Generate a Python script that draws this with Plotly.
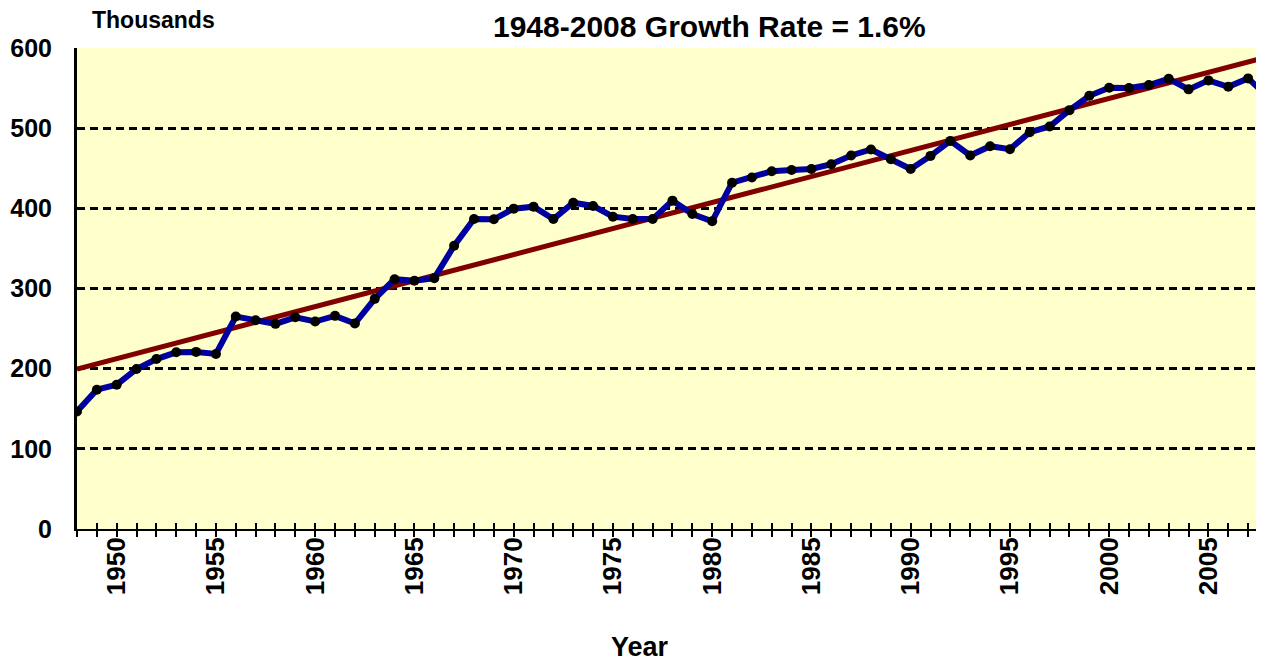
import plotly.graph_objects as go

# Annual values (thousands)
years = list(range(1948, 2009))
values = [
    146.6, 173.8, 180.0, 199.6, 212.0, 220.4, 220.9, 218.4, 265.0, 260.4,
    255.9, 264.1, 258.8, 265.9, 256.3, 287.1, 311.6, 309.6, 312.9, 353.4,
    386.6, 386.3, 399.6, 402.1, 386.6, 407.0, 403.0, 389.6, 386.6, 386.6,
    409.6, 392.9, 383.8, 432.0, 438.4, 446.3, 447.9, 449.1, 455.0, 465.9,
    473.4, 461.3, 449.1, 465.4, 484.1, 465.9, 477.5, 473.8, 495.0, 502.1,
    522.5, 540.4, 550.4, 550.0, 553.8, 561.6, 548.4, 559.6, 551.6, 562.1,
    539.0,
]

# Linear trend end points
trend_years = [1948, 2008]
trend_values = [199.5, 589.0]

y_ticks = [0, 100, 200, 300, 400, 500, 600]
label_years = list(range(1950, 2009, 5))

title_text = "1948-2008 Growth Rate = 1.6%"
font_family = "Arial, Liberation Sans, sans-serif"

fig = go.Figure()

fig.add_trace(go.Scatter(
    x=trend_years, y=trend_values, mode="lines",
    line=dict(color="#800000", width=5),
    hoverinfo="skip", showlegend=False,
))

fig.add_trace(go.Scatter(
    x=years, y=values, mode="lines+markers",
    line=dict(color="#0000A0", width=6),
    marker=dict(color="black", size=10),
    showlegend=False,
))

# invisible trace so the overlay axis (inside ticks) gets drawn
fig.add_trace(go.Scatter(
    x=[years[0]], y=[0], xaxis="x2", mode="markers",
    marker=dict(opacity=0), hoverinfo="skip", showlegend=False,
))

tick_text = [str(y) if y in label_years else "" for y in years]

# the page body keeps an 8px margin, so the figure is sized to fit inside it
fig.update_layout(
    width=1256, height=659,
    margin=dict(l=69, r=0, t=40, b=138),
    paper_bgcolor="white",
    plot_bgcolor="#FFFFCC",
    font=dict(family=font_family, color="black"),
    xaxis=dict(
        range=[1948, 2007.8], automargin=False,
        tickvals=years, ticktext=tick_text,
        ticks="outside", ticklen=6, tickwidth=2, tickcolor="black",
        tickangle=-90, ticklabelstandoff=-10,
        tickfont=dict(size=26, family=font_family, weight="bold"),
        showgrid=False, zeroline=False,
        showline=True, linecolor="black", linewidth=2,
    ),
    xaxis2=dict(
        range=[1948, 2007.8], overlaying="x", automargin=False,
        tickvals=years, ticks="inside", ticklen=6, tickwidth=2,
        tickcolor="black", showticklabels=False,
        showgrid=False, zeroline=False, showline=False,
    ),
    yaxis=dict(
        range=[0, 600], tickvals=y_ticks, automargin=False,
        tickfont=dict(size=25, family=font_family, weight="bold"),
        ticks="", ticklabelstandoff=17,
        showgrid=True, gridcolor="black", gridwidth=2.5, griddash="8px,5px",
        zeroline=False,
        showline=True, linecolor="black", linewidth=3,
    ),
    annotations=[
        dict(text=title_text, xref="paper", yref="paper",
             x=0.533, y=1.083, xanchor="center", yanchor="top",
             showarrow=False, font=dict(size=30, weight="bold")),
        dict(text="Thousands", xref="paper", yref="paper",
             x=0.011, y=1.058, xanchor="left", yanchor="middle",
             showarrow=False, font=dict(size=23, weight="bold")),
        dict(text="Year", xref="paper", yref="paper",
             x=0.474, y=-0.2807, xanchor="center", yanchor="bottom",
             showarrow=False, font=dict(size=27, weight="bold")),
    ],
)

fig.write_html("out.html")
